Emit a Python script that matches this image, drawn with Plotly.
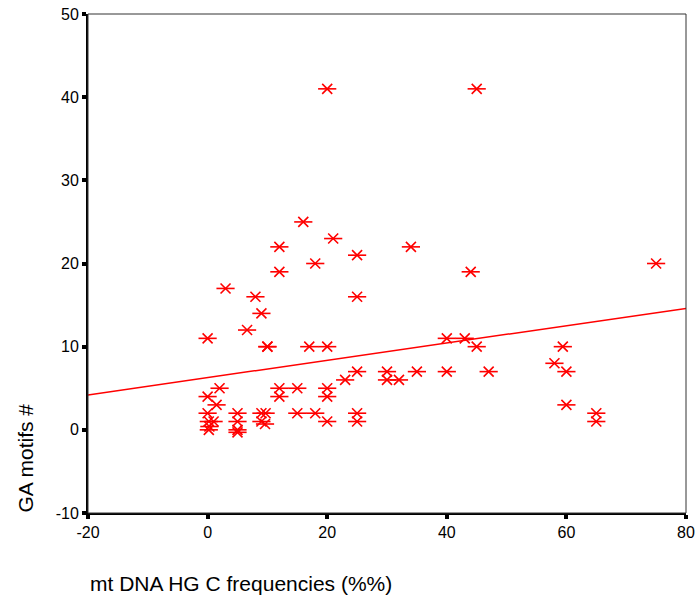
import plotly.graph_objects as go

hg_c_freq = [0, 0, 2, 1.5, 0, 0.2, 1, 0.3, 0.2,
             3, 8, 9, 6.6, 10, 10,
             5, 5, 5, 5,
             9, 9.7, 9, 9.6,
             12, 12, 12, 12,
             16, 21, 18, 25, 25, 17, 20,
             15, 15, 18, 20, 20, 20, 23, 25, 25, 25,
             20, 45,
             34, 44, 40, 43, 45, 47,
             30, 30, 32, 35, 40,
             75, 59.4, 58, 60, 60, 65, 65]
ga_motifs = [11, 4, 5, 3, 2, 1, 1, 0.4, 0,
             17, 16, 14, 12, 10, 10,
             2, 1, 0, -0.3,
             2, 2, 1, 0.7,
             22, 19, 5, 4,
             25, 23, 20, 21, 16, 10, 10,
             5, 2, 2, 5, 4, 1, 6, 7, 2, 1,
             41, 41,
             22, 19, 11, 11, 10, 7,
             7, 6, 6, 7, 7,
             20, 10, 8, 7, 3, 2, 1]

# linear fit line (value at each end of the x axis)
fit_x = [-20, 80]
fit_y = [4.2, 14.6]

x_range = [-20, 80]
y_range = [-10, 50]
x_ticks = [-20, 0, 20, 40, 60, 80]
x_tick_text = ["-20", "0", "20", "40", "60", "80"]
y_ticks = [-10, 0, 10, 20, 30, 40, 50]
y_tick_text = ["-10", "0", "10", "20", "30", "40", "50"]

red = "#ff0000"
fig = go.Figure()
fig.add_trace(go.Scatter(x=fit_x, y=fit_y, mode="lines",
                         line=dict(color=red, width=1.5), hoverinfo="skip"))
fig.add_trace(go.Scatter(x=hg_c_freq, y=ga_motifs, mode="markers",
                         marker=dict(symbol="x-thin-open", size=10,
                                     line=dict(color=red, width=1.6), color=red)))
fig.add_trace(go.Scatter(x=hg_c_freq, y=ga_motifs, mode="markers",
                         marker=dict(symbol="line-ew-open", size=13,
                                     line=dict(color=red, width=1.6), color=red)))

font_family = "Liberation Sans, Arial, sans-serif"
tickfont = dict(family=font_family, size=16, color="black")
fig.update_layout(
    width=697, height=603,
    margin=dict(l=88, r=11, t=14, b=90),
    paper_bgcolor="white", plot_bgcolor="white",
    showlegend=False,
    xaxis=dict(range=x_range, tickvals=x_ticks, ticktext=x_tick_text,
               ticks="outside", ticklen=4, tickwidth=4,
               tickcolor="black", showline=True, linecolor="black", linewidth=2,
               showgrid=False, zeroline=False, tickfont=tickfont, automargin=False),
    yaxis=dict(range=y_range, tickvals=y_ticks, ticktext=y_tick_text,
               ticks="outside", ticklen=4, tickwidth=4,
               tickcolor="black", showline=True, linecolor="black", linewidth=2,
               showgrid=False, zeroline=False, tickfont=tickfont, automargin=False),
    annotations=[
        dict(text="mt DNA HG C frequencies (%%)", xref="paper", yref="paper",
             x=0, y=0, xanchor="left", yanchor="middle", yshift=-70,
             showarrow=False, font=dict(family=font_family, size=21, color="black")),
        dict(text="GA motifs #", xref="paper", yref="paper",
             x=0, y=0, xanchor="center", yanchor="bottom", xshift=-63, yshift=-2,
             textangle=-90, showarrow=False,
             font=dict(family=font_family, size=21, color="black")),
    ],
)
fig.add_shape(type="rect", xref="paper", yref="paper", x0=0, x1=1, y0=0, y1=1,
              line=dict(color="#333333", width=1), fillcolor="rgba(0,0,0,0)", layer="above")
fig.write_html("out.html", config={"displayModeBar": False},
               post_script="document.body.style.margin='0';document.body.style.overflow='hidden';")
